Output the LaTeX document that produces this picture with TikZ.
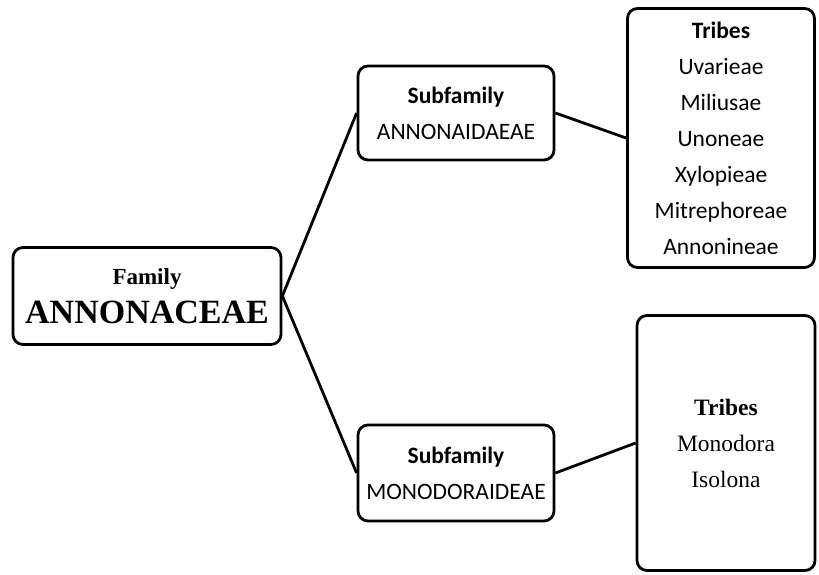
\documentclass[tikz,border=0pt]{standalone}
\usepackage{fontspec}
\setmainfont{Liberation Serif}
\newfontfamily\carlito{Carlito}
\tikzstyle{kasten} = [draw=black, fill=white, rectangle, rounded corners=10pt, line width=2.8pt, align=center, inner sep=0pt]

\begin{document}
\begin{tikzpicture}[x=1pt,y=-1pt]
\tikzstyle{ast}=[line width=2.8pt]
\tikzstyle{serifgross}=[font=\fontsize{23}{39}\selectfont]
\tikzstyle{calibri}=[font=\carlito\fontsize{23.5}{36}\selectfont]
\useasboundingbox (0,0) rectangle (819,575);

\node[kasten,serifgross,minimum width=268pt,minimum height=97pt] (familie) at (147,296)
  {\textbf{Family}\\{\fontsize{34}{39}\selectfont\textbf{ANNONACEAE}}};

\node[kasten,calibri,minimum width=196pt,minimum height=94pt] (annonoideae) at (456,113)
  {\textbf{Subfamily}\\ANNONAIDAEAE};
\node[kasten,calibri,minimum width=196pt,minimum height=96pt] (monodoroideae) at (456,473)
  {\textbf{Subfamily}\\MONODORAIDEAE};

\node[kasten,calibri,minimum width=187pt,minimum height=259pt] (tribusA) at (721,138)
  {\textbf{Tribes}\\Uvarieae\\Miliusae\\Unoneae\\Xylopieae\\Mitrephoreae\\Annonineae};
\node[kasten,font=\fontsize{23.5}{36}\selectfont,minimum width=178pt,minimum height=255pt] (tribusB) at (726,443)
  {\textbf{Tribes}\\Monodora\\Isolona};

\draw[ast] (familie.east) -- (annonoideae.west);
\draw[ast] (familie.east) -- (monodoroideae.west);
\draw[ast] (annonoideae.east) -- (tribusA.west);
\draw[ast] (monodoroideae.east) -- (tribusB.west);
\end{tikzpicture}
\end{document}
